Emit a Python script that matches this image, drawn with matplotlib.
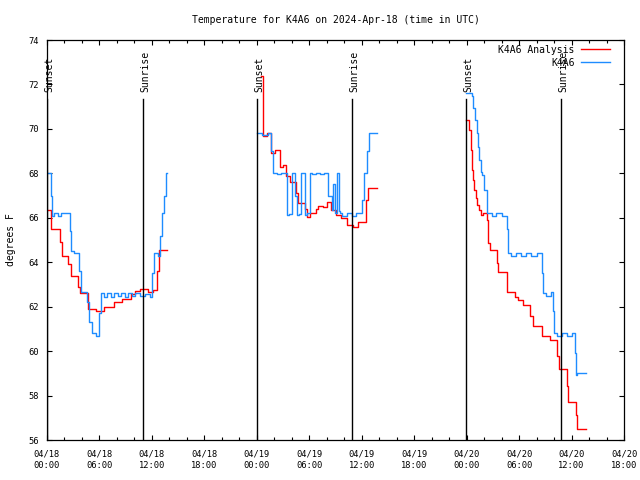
import numpy as np
import matplotlib
matplotlib.use("Agg")
import matplotlib.pyplot as plt
from matplotlib.ticker import MultipleLocator

nan = np.nan

# hours since 2024-04-18 00:00 UTC, temperature in F (step values)
analysis_hours = [0.11, 0.46, 1.49, 1.72, 2.40, 2.75, 3.55, 3.78, 4.69, 5.61, 6.52, 7.66,
                  8.58, 9.61, 10.07, 10.64, 11.55, 12.13, 12.58, 12.81, 13.73, 13.74,
                  24.48, 24.65, 25.17, 25.62, 26.08, 26.65, 26.99, 27.34, 27.80, 28.48,
                  28.71, 29.51, 29.74, 30.08, 30.77, 31.00, 31.57, 32.03, 32.49, 33.06,
                  33.63, 34.32, 35.00, 35.58, 36.46, 36.72, 37.75, 37.76,
                  47.93, 48.31, 48.50, 48.58, 48.69, 48.84, 49.03, 49.22, 49.46, 49.62,
                  49.84, 50.37, 50.48, 50.68, 51.44, 51.63, 52.58, 53.53, 53.91, 54.48,
                  55.25, 55.56, 56.59, 57.54, 58.37, 58.56, 59.45, 59.63, 60.51, 60.66,
                  61.66]
analysis_temp = [66.35, 65.5, 64.9, 64.3, 63.9, 63.4, 62.9, 62.63, 61.9, 61.8, 62.0, 62.2,
                 62.36, 62.57, 62.7, 62.78, 62.67, 62.75, 63.6, 64.55, 64.55, nan,
                 72.4, 69.7, 69.8, 68.9, 69.05, 68.3, 68.37, 67.9, 67.6, 67.1,
                 66.65, 66.4, 66.05, 66.2, 66.4, 66.54, 66.5, 66.7, 66.35, 66.12,
                 66.0, 65.67, 65.6, 65.8, 66.8, 67.32, 67.32, nan,
                 70.4, 69.95, 69.05, 68.15, 67.7, 67.25, 66.87, 66.57, 66.35, 66.12,
                 66.2, 65.9, 64.85, 64.55, 63.95, 63.57, 62.67, 62.45, 62.3, 62.07,
                 61.6, 61.13, 60.7, 60.5, 59.78, 59.18, 58.43, 57.72, 57.12, 56.48,
                 56.48]

station_hours = [0.00, 0.46, 0.57, 0.80, 1.26, 1.60, 2.63, 2.75, 3.09, 3.66, 3.89, 4.58,
                 4.80, 5.15, 5.60, 5.95, 6.18, 6.52, 6.86, 7.32, 7.66, 8.12, 8.46, 8.92,
                 9.27, 9.72, 10.07, 10.64, 11.21, 11.78, 12.01, 12.24, 12.70, 12.93,
                 13.15, 13.38, 13.61, 13.73, 13.74,
                 24.02, 24.59, 25.28, 25.62, 25.85, 26.30, 26.75, 27.42, 27.46, 27.68,
                 28.03, 28.37, 28.60, 28.77, 29.06, 29.51, 29.74, 30.08, 30.31, 30.77,
                 31.23, 31.69, 32.15, 32.57, 32.72, 32.94, 33.17, 33.40, 33.52, 33.75,
                 34.30, 34.90, 35.40, 36.03, 36.26, 36.61, 36.84, 37.75, 37.76,
                 47.93, 48.58, 48.77, 48.96, 49.15, 49.34, 49.46, 49.62, 49.73, 50.00,
                 50.11, 50.30, 50.37, 50.90, 51.40, 52.00, 52.58, 52.73, 53.04, 53.60,
                 54.20, 54.80, 55.40, 56.00, 56.59, 56.74, 57.08, 57.62, 57.88, 58.00,
                 58.31, 58.90, 59.50, 60.10, 60.40, 60.51, 60.63, 60.86, 61.66]
station_temp = [68.0, 67.0, 66.1, 66.2, 66.1, 66.2, 65.4, 64.5, 64.4, 63.6, 62.67, 62.2,
                61.3, 60.8, 60.7, 61.7, 62.6, 62.45, 62.6, 62.45, 62.6, 62.5, 62.6, 62.45,
                62.6, 62.5, 62.6, 62.5, 62.55, 62.45, 63.5, 64.4, 64.3, 65.2,
                66.2, 67.0, 68.0, 68.0, nan,
                69.83, 69.72, 69.83, 69.0, 68.0, 67.95, 68.0, 67.0, 66.12, 66.15,
                68.0, 67.0, 66.12, 66.15, 68.0, 66.12, 66.2, 68.0, 67.95, 68.0,
                67.95, 68.0, 67.0, 66.35, 67.5, 66.2, 68.0, 66.3, 66.2, 66.1,
                66.2, 66.1, 66.2, 66.8, 68.0, 69.0, 69.83, 69.83, nan,
                71.6, 71.5, 70.93, 70.4, 69.8, 69.2, 68.6, 68.07, 67.92, 67.25,
                67.25, 66.5, 66.2, 66.1, 66.2, 66.1, 65.5, 64.4, 64.3, 64.4,
                64.3, 64.4, 64.3, 64.4, 63.5, 62.6, 62.5, 62.65, 61.8, 60.8,
                60.7, 60.8, 60.7, 60.8, 59.9, 58.92, 59.0, 59.0, 59.0]

sun_hours = [0.03, 11.02, 24.06, 34.92, 47.96, 58.83]
sun_labels = ["Sunset", "Sunrise", "Sunset", "Sunrise", "Sunset", "Sunrise"]

tick_hours = list(range(0, 67, 6))
tick_labels = ["04/18\n00:00", "04/18\n06:00", "04/18\n12:00", "04/18\n18:00",
               "04/19\n00:00", "04/19\n06:00", "04/19\n12:00", "04/19\n18:00",
               "04/20\n00:00", "04/20\n06:00", "04/20\n12:00", "04/20\n18:00"]

plt.rcParams['font.family'] = ['DejaVu Sans Mono']

fig = plt.figure(figsize=(6.4, 4.8), dpi=100)
ax = fig.add_axes([47/640, 40/480, 577/640, 400/480])

ax.plot(analysis_hours, analysis_temp, drawstyle='steps-post', color='#ff0000',
        lw=1.0, label='K4A6 Analysis')
ax.plot(station_hours, station_temp, drawstyle='steps-post', color='#1e8cff',
        lw=1.0, label='K4A6')

for h, lab in zip(sun_hours, sun_labels):
    ax.plot([h, h], [56, 71.34], color='black', lw=1.0)
    ax.annotate(lab, xy=(h, 71.66), xytext=(2, 0), textcoords='offset pixels',
                rotation=90, ha='center', va='bottom', fontsize=7)

ax.set_xlim(0, 66)
ax.set_ylim(56, 74)
ax.set_xticks(tick_hours)
ax.set_xticklabels(tick_labels, linespacing=1.45)
ax.xaxis.set_minor_locator(MultipleLocator(2))
ax.yaxis.set_major_locator(MultipleLocator(2))
ax.tick_params(which='both', direction='in', top=True, right=True, labelsize=6.3,
               width=0.8)
ax.tick_params(which='major', length=3.5)
ax.tick_params(which='minor', length=2)
ax.tick_params(axis='x', pad=6.5)
ax.tick_params(axis='y', pad=6)
for s in ax.spines.values():
    s.set_linewidth(0.9)

ax.set_title("Temperature for K4A6 on 2024-Apr-18 (time in UTC)", fontsize=7, pad=12)
ax.set_ylabel("degrees F", fontsize=7, labelpad=9)

ax.legend(loc='upper right', bbox_to_anchor=(0.975, 0.988), frameon=False,
          markerfirst=False, fontsize=7, handlelength=2.9, handletextpad=0.7,
          labelspacing=0.3, borderaxespad=0, borderpad=0)

fig.savefig("out.png", dpi=100)
